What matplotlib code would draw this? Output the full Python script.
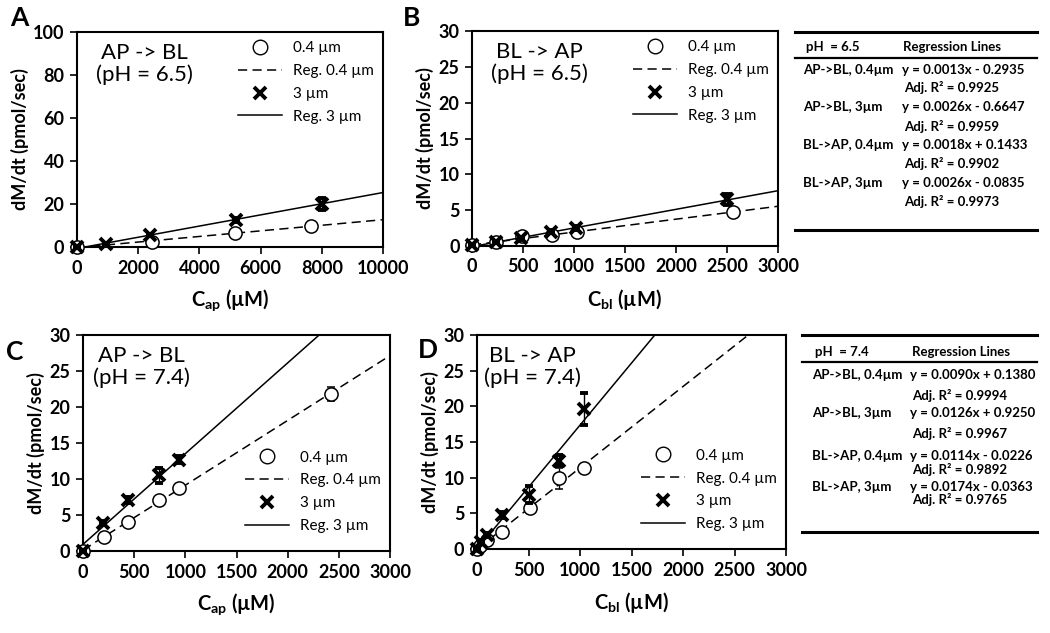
import numpy as np
import matplotlib
matplotlib.use("Agg")
import matplotlib.pyplot as plt
from matplotlib.lines import Line2D

plt.rcParams['font.family'] = ['Lato', 'DejaVu Sans']
plt.rcParams['mathtext.fontset'] = 'custom'
plt.rcParams['mathtext.rm'] = 'Lato'
plt.rcParams['mathtext.bf'] = 'Lato:bold'

# ---- data ----
# panel A: AP -> BL, pH 6.5
a_x04 = [0, 2450, 5150, 7650]
a_y04 = [0, 2.5, 6.5, 10.0]
a_e04 = [0, 0.4, 0.8, 1.0]
a_x3 = [0, 950, 2400, 5200, 8000]
a_y3 = [0, 1.5, 5.5, 12.5, 20.0]
a_e3 = [0, 0.3, 0.6, 1.0, 3.0]

# panel B: BL -> AP, pH 6.5
b_x04 = [0, 240, 490, 780, 1030, 2560]
b_y04 = [0.1, 0.5, 1.4, 1.6, 2.0, 4.7]
b_e04 = [0, 0.1, 0.2, 0.2, 0.2, 0.3]
b_x3 = [0, 240, 480, 770, 1020, 2500]
b_y3 = [0.1, 0.6, 1.1, 2.0, 2.5, 6.5]
b_e3 = [0, 0.1, 0.2, 0.2, 0.3, 0.8]

# panel C: AP -> BL, pH 7.4
c_x04 = [0, 210, 440, 740, 940, 2420]
c_y04 = [0, 2.0, 4.0, 7.1, 8.7, 21.8]
c_e04 = [0, 0.2, 0.2, 0.3, 0.3, 1.0]
c_x3 = [0, 200, 440, 740, 940]
c_y3 = [0, 3.9, 7.1, 10.5, 12.7]
c_e3 = [0, 0.3, 0.4, 1.0, 0.5]

# panel D: BL -> AP, pH 7.4
d_x04 = [0, 30, 100, 240, 510, 800, 1040]
d_y04 = [0, 0.4, 1.2, 2.4, 5.7, 9.9, 11.3]
d_e04 = [0, 0.1, 0.2, 0.3, 0.5, 1.5, 0.5]
d_x3 = [0, 40, 100, 240, 500, 800, 1040]
d_y3 = [0, 1.0, 2.0, 4.8, 7.6, 12.4, 19.6]
d_e3 = [0, 0.2, 0.3, 0.4, 1.2, 0.8, 2.2]

# regression lines (slope, intercept) from the tables
reg_a = [(0.0013, -0.2935), (0.0026, -0.6647)]
reg_b = [(0.0018, 0.1433), (0.0026, -0.0835)]
reg_c = [(0.0090, 0.1380), (0.0126, 0.9250)]
reg_d = [(0.0114, -0.0226), (0.0174, -0.0363)]

table_65_labels = ["AP->BL, 0.4µm", "AP->BL, 3µm", "BL->AP, 0.4µm", "BL->AP, 3µm"]
table_65_eqs = ["y = 0.0013x - 0.2935", "y = 0.0026x - 0.6647",
                "y = 0.0018x + 0.1433", "y = 0.0026x - 0.0835"]
table_65_r2 = ["0.9925", "0.9959", "0.9902", "0.9973"]
table_74_labels = ["AP->BL, 0.4µm", "AP->BL, 3µm", "BL->AP, 0.4µm", "BL->AP, 3µm"]
table_74_eqs = ["y = 0.0090x + 0.1380", "y = 0.0126x + 0.9250",
                "y = 0.0114x - 0.0226", "y = 0.0174x - 0.0363"]
table_74_r2 = ["0.9994", "0.9967", "0.9892", "0.9765"]

W, H = 1050, 633
fig = plt.figure(figsize=(W / 100, H / 100), dpi=100)

DASH = (0, (6, 3.5))


def ax_px(l, t, r, b):
    return fig.add_axes([l / W, 1 - b / H, (r - l) / W, (b - t) / H])


def panel(ax, x04, y04, e04, x3, y3, e3, reg, xmax, ymax, xticks, yticks,
          xlabel, title, tx, legloc, leganchor):
    xs = np.array([0, xmax])
    (m1, b1), (m2, b2) = reg
    ax.plot(xs, m1 * xs + b1, ls=DASH, color='black', lw=1.1, zorder=2)
    ax.plot(xs, m2 * xs + b2, ls='-', color='black', lw=1.1, zorder=2)
    ax.errorbar(x04, y04, yerr=e04, fmt='o', ms=9.5, mfc='white', mec='black',
                mew=1.1, ecolor='black', elinewidth=1, capsize=3, zorder=3,
                clip_on=False)
    ax.errorbar(x3, y3, yerr=e3, fmt='x', ms=8.5, mec='black', mew=2.8,
                ecolor='black', elinewidth=1, capsize=3, zorder=4, clip_on=False)
    ax.set_xlim(0, xmax)
    ax.set_ylim(0, ymax)
    ax.set_xticks(xticks)
    ax.set_yticks(yticks)
    for s in ax.spines.values():
        s.set_linewidth(1.5)
    ax.tick_params(direction='out', length=5, width=1.2, labelsize=13, pad=4)
    for lab in ax.get_xticklabels() + ax.get_yticklabels():
        lab.set_fontweight('bold')
    ax.set_xlabel(xlabel, fontsize=14.5, fontweight='bold', labelpad=8)
    ax.set_ylabel('dM/dt (pmol/sec)', fontsize=13, fontweight='bold', labelpad=3)
    ax.text(tx, 0.95, title, transform=ax.transAxes, ha='center', va='top',
            fontsize=16, linespacing=1.1)
    handles = [
        Line2D([], [], marker='o', ls='none', ms=10.5, mfc='white', mec='black'),
        Line2D([], [], ls=DASH, color='black', lw=1.1),
        Line2D([], [], marker='x', ls='none', ms=8.5, mec='black', mew=2.8),
        Line2D([], [], ls='-', color='black', lw=1.1),
    ]
    labels = ['0.4 µm', 'Reg. 0.4 µm', '3 µm', 'Reg. 3 µm']
    ax.legend(handles, labels, loc=legloc, bbox_to_anchor=leganchor,
              frameon=False, fontsize=11, handlelength=2.9, labelspacing=0.58,
              handletextpad=0.7, borderaxespad=0.2)


ax_a = ax_px(77, 32, 383, 247)
panel(ax_a, a_x04, a_y04, a_e04, a_x3, a_y3, a_e3, reg_a, 10000, 100,
      range(0, 10001, 2000), range(0, 101, 20), r'C$_\mathbf{ap}$ (µM)',
      'AP -> BL\n(pH = 6.5)', 0.22, 'upper right', (1.0, 1.0))

ax_b = ax_px(472, 31, 778, 246)
panel(ax_b, b_x04, b_y04, b_e04, b_x3, b_y3, b_e3, reg_b, 3000, 30,
      range(0, 3001, 500), range(0, 31, 5), r'C$_\mathbf{bl}$ (µM)',
      'BL -> AP\n(pH = 6.5)', 0.22, 'upper right', (1.0, 1.0))

ax_c = ax_px(83, 335, 390, 551)
panel(ax_c, c_x04, c_y04, c_e04, c_x3, c_y3, c_e3, reg_c, 3000, 30,
      range(0, 3001, 500), range(0, 31, 5), r'C$_\mathbf{ap}$ (µM)',
      'AP -> BL\n(pH = 7.4)', 0.19, 'lower right', (1.0, 0.04))

ax_d = ax_px(477, 335, 786, 549)
panel(ax_d, d_x04, d_y04, d_e04, d_x3, d_y3, d_e3, reg_d, 3000, 30,
      range(0, 3001, 500), range(0, 31, 5), r'C$_\mathbf{bl}$ (µM)',
      'BL -> AP\n(pH = 7.4)', 0.18, 'lower right', (1.0, 0.04))

# panel letters
for letter, px, py in [('A', 10, 18), ('B', 403, 18), ('C', 6, 352), ('D', 418, 350)]:
    fig.text(px / W, 1 - py / H, letter, fontsize=19, fontweight='bold',
             va='center', ha='left')


def table(x0, x1, ytop, yhead, ybot, head_y, ph, lab_x, eq_x, head_eq_x,
          labels, eqs, r2s, row_ys):
    fig.add_artist(Line2D([x0 / W, x1 / W], [1 - ytop / H] * 2, color='black', lw=2.2))
    fig.add_artist(Line2D([x0 / W, x1 / W], [1 - yhead / H] * 2, color='black', lw=1.6))
    fig.add_artist(Line2D([x0 / W, x1 / W], [1 - ybot / H] * 2, color='black', lw=2.2))
    fs = 9.5
    fig.text(lab_x / W + 0.003, 1 - head_y / H, ph, fontsize=fs, va='center',
             fontweight='bold')
    fig.text(head_eq_x / W, 1 - head_y / H, 'Regression Lines', fontsize=fs,
             va='center', fontweight='bold')
    for i, (lab, eq, r2) in enumerate(zip(labels, eqs, r2s)):
        y_eq, y_r2 = row_ys[2 * i], row_ys[2 * i + 1]
        fig.text(lab_x / W, 1 - y_eq / H, lab, fontsize=fs, va='center',
                 fontweight='bold')
        fig.text(eq_x / W, 1 - y_eq / H, eq, fontsize=fs, va='center',
                 fontweight='bold')
        fig.text(eq_x / W + 0.002, 1 - y_r2 / H, 'Adj. R² = ' + r2, fontsize=fs,
                 va='center', fontweight='bold')


table(795, 1037, 32, 58, 230, 47, 'pH  = 6.5', 803, 902, 903,
      table_65_labels, table_65_eqs, table_65_r2,
      [70, 88, 107, 126, 145, 163, 183, 202])
table(802, 1037, 335, 362, 532, 352, 'pH  = 7.4', 812, 910, 912,
      table_74_labels, table_74_eqs, table_74_r2,
      [375, 395, 413, 433, 456, 469, 487, 500])

fig.savefig('out.png', dpi=100)
